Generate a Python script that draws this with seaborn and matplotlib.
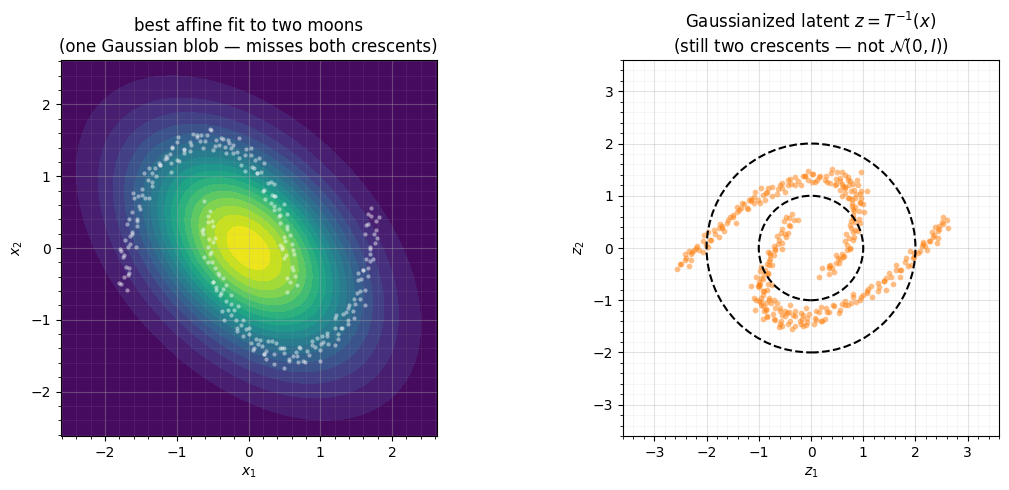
import numpy as np
import pandas as pd
import matplotlib
matplotlib.use("Agg")
import matplotlib.pyplot as plt
from matplotlib.patches import Circle
from matplotlib.ticker import MultipleLocator
import seaborn as sns

# ---------------- data ----------------
# fitted Gaussian (data space)
gauss_mean = [0.0, 0.0]
gauss_cov = [[1.0, -0.445], [-0.445, 1.0]]

# two moons, data space (left panel)
upper_x = [0.58, 0.65, 0.53, 0.60, 0.49, 0.63, 0.51, 0.62, 0.46, 0.53, 0.44, 0.49,
           0.35, 0.43, 0.49, 0.33, 0.23, 0.36, 0.27, 0.18, 0.20, 0.05, 0.14, 0.12,
           -0.05, 0.03, -0.10, -0.16, -0.27, -0.13, -0.36, -0.25, -0.41, -0.45, -0.54, -0.49,
           -0.72, -0.64, -0.58, -0.80, -0.90, -0.77, -0.90, -0.99, -0.97, -1.15, -1.06, -1.08,
           -1.24, -1.17, -1.29, -1.34, -1.45, -1.31, -1.49, -1.38, -1.54, -1.51, -1.60, -1.55,
           -1.70, -1.62, -1.56, -1.68, -1.78, -1.65, -1.66, -1.75, -1.73, -1.77, -1.68, -1.70,
           0.62, 0.53, 0.68, 0.52, 0.61, 0.47, 0.53, 0.44, 0.58, 0.44, 0.53, 0.36,
           0.42, 0.35, 0.31, 0.31, 0.22, 0.37, 0.12, 0.21, 0.07, 0.04, -0.05, 0.09,
           -0.13, -0.04, -0.21, -0.22, -0.29, -0.33, -0.38, -0.47, -0.32, -0.61, -0.52, -0.66,
           -0.72, -0.81, -0.67, -0.90, -0.81, -0.98, -0.99, -1.06, -1.10, -1.14, -1.23, -1.08,
           -1.34, -1.25, -1.39, -1.40, -1.49, -1.35, -1.53, -1.44, -1.61, -1.55, -1.62, -1.66,
           -1.63, -1.72, -1.57, -1.74, -1.65, -1.79, -1.71, -1.80, -1.66]
upper_y = [-0.48, -0.39, -0.62, -0.27, -0.14, -0.08, 0.10, -0.03, 0.01, 0.31, 0.46, 0.16,
           0.58, 0.44, 0.62, 0.74, 0.68, 0.89, 0.91, 1.06, 0.79, 1.13, 1.25, 1.04,
           1.30, 1.39, 1.16, 1.34, 1.47, 1.53, 1.52, 1.39, 1.43, 1.51, 1.66, 1.36,
           1.54, 1.40, 1.58, 1.44, 1.38, 1.59, 1.33, 1.48, 1.21, 1.28, 1.40, 1.19,
           1.15, 1.24, 1.01, 0.92, 1.05, 1.11, 0.82, 0.69, 0.73, 0.55, 0.70, 0.40,
           0.34, 0.20, 0.38, 0.02, -0.04, 0.17, -0.28, -0.13, -0.40, -0.50, -0.38, -0.59,
           -0.31, -0.42, -0.51, -0.10, 0.05, -0.02, 0.26, 0.04, 0.18, 0.35, 0.47, 0.53,
           0.54, 0.73, 0.63, 0.92, 0.81, 0.72, 1.04, 1.19, 1.12, 1.30, 1.08, 1.22,
           1.26, 1.38, 1.44, 1.32, 1.51, 1.41, 1.53, 1.42, 1.33, 1.49, 1.64, 1.57,
           1.57, 1.35, 1.49, 1.36, 1.48, 1.54, 1.22, 1.41, 1.31, 1.26, 1.15, 1.06,
           1.04, 1.19, 1.12, 0.95, 0.74, 0.87, 0.58, 0.70, 0.76, 0.31, 0.50, 0.40,
           0.22, 0.11, 0.02, -0.10, 0.05, -0.02, -0.27, -0.49, -0.35]
lower_x = [-0.53, -0.62, -0.57, -0.63, -0.55, -0.49, -0.52, -0.62, -0.49, -0.42, -0.51, -0.49,
           -0.45, -0.36, -0.38, -0.32, -0.25, -0.37, -0.18, -0.29, -0.15, -0.11, 0.00, -0.16,
           0.10, 0.01, 0.06, 0.13, 0.21, 0.27, 0.35, 0.25, 0.38, 0.56, 0.47, 0.49,
           0.62, 0.71, 0.69, 0.81, 0.88, 0.76, 0.99, 0.88, 1.02, 1.09, 1.20, 1.04,
           1.29, 1.20, 1.25, 1.31, 1.39, 1.45, 1.48, 1.38, 1.51, 1.62, 1.53, 1.55,
           1.60, 1.69, 1.67, 1.69, 1.76, 1.64, 1.75, 1.64, 1.78, 1.71, 1.82, 1.66,
           -0.56, -0.65, -0.51, -0.56, -0.47, -0.64, -0.46, -0.53, -0.57, -0.41, -0.50, -0.35,
           -0.40, -0.31, -0.45, -0.25, -0.34, -0.20, -0.16, -0.07, -0.24, 0.03, -0.04, -0.08,
           0.16, 0.07, 0.22, 0.24, 0.33, 0.19, 0.44, 0.35, 0.49, 0.57, 0.66, 0.49,
           0.79, 0.72, 0.68, 0.93, 0.84, 0.99, 1.01, 1.10, 0.96, 1.20, 1.11, 1.25,
           1.30, 1.39, 1.22, 1.47, 1.40, 1.36, 1.56, 1.47, 1.62, 1.57, 1.66, 1.52,
           1.69, 1.60, 1.74, 1.70, 1.79, 1.62, 1.78, 1.71, 1.67]
lower_y = [0.51, 0.66, 0.36, 0.27, 0.13, 0.31, -0.06, -0.12, 0.09, -0.35, -0.20, -0.47,
           -0.54, -0.42, -0.63, -0.74, -0.65, -0.88, -1.00, -0.87, -0.81, -1.07, -1.20, -1.16,
           -1.27, -1.12, -1.42, -1.34, -1.48, -1.30, -1.48, -1.54, -1.33, -1.55, -1.40, -1.67,
           -1.50, -1.38, -1.59, -1.44, -1.35, -1.58, -1.42, -1.29, -1.23, -1.22, -1.35, -1.31,
           -1.12, -0.97, -1.27, -0.92, -1.06, -0.88, -0.78, -0.84, -0.63, -0.59, -0.44, -0.71,
           -0.30, -0.18, -0.39, -0.02, 0.07, -0.16, 0.19, 0.32, 0.38, 0.56, 0.43, 0.47,
           0.45, 0.23, 0.37, 0.02, 0.14, 0.20, -0.28, -0.09, -0.19, -0.37, -0.48, -0.57,
           -0.66, -0.51, -0.58, -0.78, -1.00, -0.86, -1.12, -1.00, -0.94, -1.32, -1.13, -1.23,
           -1.28, -1.39, -1.48, -1.44, -1.29, -1.36, -1.39, -1.61, -1.47, -1.57, -1.45, -1.39,
           -1.59, -1.40, -1.50, -1.38, -1.49, -1.58, -1.34, -1.19, -1.26, -1.12, -1.34, -1.20,
           -1.12, -1.00, -0.94, -0.98, -0.79, -0.89, -0.60, -0.71, -0.80, -0.43, -0.28, -0.35,
           -0.08, -0.30, -0.16, 0.02, 0.14, 0.20, 0.25, 0.44, 0.34]

# latent space (right panel)
latA_x = [-2.50, -2.42, -2.57, -2.29, -2.42, -2.28, -2.19, -2.06, -2.24, -1.94, -2.04, -1.97,
          -1.86, -1.77, -1.71, -1.60, -1.71, -1.55, -1.42, -1.34, -1.49, -1.20, -1.33, -1.19,
          -1.10, -0.97, -1.15, -0.86, -0.96, -0.89, -0.75, -0.66, -0.60, -0.45, -0.56, -0.40,
          -0.24, -0.16, -0.31, 0.02, -0.11, 0.03, 0.17, 0.30, 0.12, 0.48, 0.38, 0.45,
          0.56, 0.65, 0.71, 0.76, 0.65, 0.81, 0.85, 0.93, 0.78, 0.92, 0.79, 0.93,
          0.81, 0.94, 0.76, 0.85, 0.75, 0.82, 0.66, 0.75, 0.81, 0.63, 0.52, 0.68,
          0.47, 0.55, 0.40, 0.34, 0.21, 0.35, 0.15, 0.60, 0.70, 0.55, 0.95, 0.88, 0.65,
          -2.39, -2.48, -2.34, -2.29, -2.20, -2.34, -2.06, -2.15, -2.01, -1.92, -1.83, -1.98,
          -1.66, -1.74, -1.76, -1.49, -1.58, -1.44, -1.37, -1.28, -1.42, -1.14, -1.23, -1.09,
          -1.01, -0.92, -1.07, -0.75, -0.83, -0.85, -0.55, -0.64, -0.50, -0.39, -0.30, -0.44,
          -0.11, -0.20, -0.06, 0.07, 0.16, 0.01, 0.37, 0.29, 0.27, 0.56, 0.47, 0.61,
          0.65, 0.74, 0.60, 0.82, 0.73, 0.87, 0.85, 0.94, 0.79, 0.91, 0.83, 0.81,
          0.85, 0.76, 0.90, 0.72, 0.81, 0.67, 0.69, 0.60, 0.74, 0.53, 0.62, 0.47,
          0.44, 0.36, 0.34, 0.70, 0.90, 0.95, 0.60, 0.80, 1.00, 0.72, 0.50, 0.95,
          1.07, 1.02, 0.40, -0.05]
latA_y = [-0.31, -0.23, -0.40, -0.23, -0.12, -0.07, 0.03, -0.08, -0.04, 0.15, 0.25, 0.02,
          0.35, 0.22, 0.38, 0.47, 0.42, 0.59, 0.68, 0.76, 0.59, 0.75, 0.86, 0.91,
          0.97, 0.86, 0.90, 1.05, 1.15, 0.92, 1.17, 1.04, 1.20, 1.20, 1.15, 1.32,
          1.29, 1.37, 1.20, 1.26, 1.37, 1.42, 1.37, 1.26, 1.30, 1.33, 1.43, 1.20,
          1.28, 1.15, 1.31, 1.10, 1.05, 1.22, 0.96, 1.04, 0.87, 0.70, 0.81, 0.86,
          0.58, 0.47, 0.51, 0.34, 0.44, 0.21, 0.13, 0.00, 0.16, -0.15, -0.20, -0.03,
          -0.29, -0.21, -0.38, -0.50, -0.39, -0.34, -0.55, 1.00, 0.95, 1.12, 1.10, 1.30, 1.40,
          -0.19, -0.30, -0.35, -0.12, 0.00, -0.05, 0.14, -0.04, 0.06, 0.16, 0.26, 0.31,
          0.32, 0.46, 0.39, 0.64, 0.53, 0.48, 0.72, 0.84, 0.79, 0.94, 0.77, 0.86,
          0.92, 1.02, 1.07, 1.00, 1.14, 1.07, 1.24, 1.13, 1.08, 1.23, 1.35, 1.30,
          1.38, 1.21, 1.30, 1.26, 1.36, 1.41, 1.24, 1.38, 1.31, 1.34, 1.23, 1.18,
          1.16, 1.28, 1.23, 1.12, 0.95, 1.04, 0.79, 0.89, 0.94, 0.56, 0.70, 0.63,
          0.49, 0.38, 0.33, 0.19, 0.31, 0.26, 0.06, -0.11, -0.02, -0.28, -0.18, -0.13,
          -0.46, -0.32, -0.39, 1.35, 1.20, 0.95, 1.45, 0.75, 0.85, 1.20, 1.45, 1.45,
          1.09, 0.68, 1.52, 1.48]
latB_x = [-0.37, -0.24, -0.42, -0.41, -0.51, -0.44, -0.65, -0.56, -0.50, -0.68, -0.79, -0.63,
          -0.78, -0.70, -0.85, -0.82, -0.95, -0.81, -0.95, -0.82, -1.00, -0.92, -1.02, -0.95,
          -0.96, -0.87, -0.81, -0.73, -0.84, -0.68, -0.50, -0.42, -0.57, -0.21, -0.34, -0.20,
          -0.03, 0.10, -0.08, 0.30, 0.20, 0.27, 0.44, 0.53, 0.59, 0.76, 0.65, 0.81,
          1.00, 1.08, 0.93, 1.28, 1.15, 1.29, 1.44, 1.57, 1.39, 1.73, 1.63, 1.70,
          1.82, 1.91, 1.97, 2.09, 1.98, 2.14, 2.25, 2.33, 2.18, 2.44, 2.31, 2.45,
          2.50, 2.63, 2.45, -0.85, -0.70, -0.60, -0.40, -1.05, -0.60, -0.30, -0.75, -0.90,
          -0.10, 0.10,
          -0.42, -0.33, -0.48, -0.48, -0.56, -0.58, -0.61, -0.70, -0.56, -0.78, -0.69, -0.83,
          -0.80, -0.89, -0.75, -0.91, -0.82, -0.97, -0.90, -0.98, -1.00, -0.91, -1.00, -0.86,
          -0.86, -0.77, -0.91, -0.60, -0.69, -0.55, -0.40, -0.31, -0.46, -0.08, -0.16, -0.18,
          0.16, 0.07, 0.21, 0.34, 0.43, 0.29, 0.65, 0.56, 0.70, 0.86, 0.95, 0.80,
          1.17, 1.09, 1.07, 1.39, 1.30, 1.44, 1.54, 1.63, 1.49, 1.80, 1.71, 1.85,
          1.96, 2.05, 1.90, 2.22, 2.14, 2.12, 2.36, 2.27, 2.41, 2.43, 2.52, 2.38,
          -0.95, -0.80, -0.65, -0.50, -0.45, -0.20, 0.05, -0.70, -0.85, -1.00, -0.90, -1.05,
          -0.55, -0.30, 0.20, -0.10,
          -1.15, -1.10, -0.92, -0.62, -0.36, -1.08, -0.15, 2.52, 2.60]
latB_y = [0.65, 0.54, 0.58, 0.42, 0.52, 0.29, 0.23, 0.10, 0.26, -0.04, -0.09, 0.08,
          -0.21, -0.13, -0.30, -0.48, -0.37, -0.32, -0.58, -0.69, -0.65, -0.83, -0.73, -0.96,
          -1.03, -1.16, -1.00, -1.27, -1.32, -1.15, -1.31, -1.23, -1.40, -1.40, -1.29, -1.24,
          -1.27, -1.38, -1.34, -1.23, -1.13, -1.36, -1.11, -1.24, -1.08, -1.05, -1.10, -0.93,
          -0.90, -0.82, -0.99, -0.83, -0.72, -0.67, -0.57, -0.68, -0.64, -0.42, -0.32, -0.55,
          -0.20, -0.33, -0.17, -0.05, -0.10, 0.07, 0.13, 0.21, 0.04, 0.20, 0.31, 0.36,
          0.50, 0.39, 0.43, -0.80, -1.00, -1.15, -1.10, -0.55, -1.45, -1.50, -0.70, -1.20,
          -1.48, -1.20,
          0.44, 0.54, 0.59, 0.22, 0.36, 0.29, 0.15, 0.04, -0.02, -0.14, -0.02, -0.07,
          -0.25, -0.42, -0.33, -0.59, -0.49, -0.44, -0.82, -0.68, -0.75, -0.90, -1.01, -1.06,
          -1.18, -1.06, -1.11, -1.21, -1.38, -1.29, -1.40, -1.30, -1.25, -1.42, -1.28, -1.35,
          -1.23, -1.34, -1.39, -1.22, -1.10, -1.15, -1.01, -1.18, -1.09, -1.03, -0.93, -0.88,
          -0.93, -0.79, -0.86, -0.64, -0.75, -0.80, -0.55, -0.43, -0.48, -0.26, -0.43, -0.34,
          -0.20, -0.10, -0.05, -0.04, 0.11, 0.04, 0.25, 0.14, 0.09, 0.33, 0.45, 0.40,
          -1.10, -0.95, -1.05, -1.20, -1.45, -1.45, -1.45, -1.35, -1.30, -0.70, -0.50, -1.00,
          -1.50, -1.20, -1.40, -1.15,
          -0.72, -0.95, -1.35, -1.52, -1.55, -1.18, -1.50, 0.60, 0.53]

circle_radii = [1, 2]

# ---------------- figure ----------------
plt.rcParams['font.family'] = ['DejaVu Sans']
fig = plt.figure(figsize=(10.09, 4.90), dpi=100)
W, H = 1009, 490
axL = fig.add_axes([60 / W, (H - 436) / H, 377 / W, 376 / H])
axR = fig.add_axes([623 / W, (H - 436) / H, 376 / W, 376 / H])

# left: gaussian density contours
g = np.linspace(-2.62, 2.62, 300)
GX, GY = np.meshgrid(g, g)
mu = np.array(gauss_mean)
S = np.array(gauss_cov)
Si = np.linalg.inv(S)
dx, dy = GX - mu[0], GY - mu[1]
Q = Si[0, 0] * dx * dx + 2 * Si[0, 1] * dx * dy + Si[1, 1] * dy * dy
dens = np.exp(-0.5 * Q) / (2 * np.pi * np.sqrt(np.linalg.det(S)))
axL.contourf(GX, GY, dens, levels=20, cmap="viridis", zorder=0)

moons = pd.DataFrame({"x": upper_x + lower_x, "y": upper_y + lower_y})
sns.scatterplot(data=moons, x="x", y="y", ax=axL, color="white", s=9,
                alpha=0.45, linewidth=0, zorder=3)
axL.set_xlim(-2.62, 2.62)
axL.set_ylim(-2.62, 2.62)
axL.set_aspect("equal")
axL.set_title("best affine fit to two moons\n(one Gaussian blob — misses both crescents)",
              fontsize=12)
axL.set_xlabel("$x_1$")
axL.set_ylabel("$x_2$")

# right: latent
lat = pd.DataFrame({"x": latA_x + latB_x, "y": latA_y + latB_y})
sns.scatterplot(data=lat, x="x", y="y", ax=axR, color="#ff7f0e", s=17,
                alpha=0.5, linewidth=0, zorder=3)
for r in circle_radii:
    axR.add_patch(Circle((0, 0), r, fill=False, ls="--", lw=1.5, color="black", zorder=4))
axR.set_xlim(-3.6, 3.6)
axR.set_ylim(-3.6, 3.6)
axR.set_aspect("equal")
axR.set_title("Gaussianized latent $z = T^{-1}(x)$\n(still two crescents — not $\\mathcal{N}(0, I)$)",
              fontsize=12)
axR.set_xlabel("$z_1$")
axR.set_ylabel("$z_2$")

for ax in (axL, axR):
    ax.xaxis.set_major_locator(MultipleLocator(1))
    ax.yaxis.set_major_locator(MultipleLocator(1))
    ax.xaxis.set_minor_locator(MultipleLocator(0.2))
    ax.yaxis.set_minor_locator(MultipleLocator(0.2))
    ax.grid(which="major", alpha=0.35, lw=0.8)
    ax.grid(which="minor", alpha=0.12, lw=0.6)

fig.savefig("out.png", dpi=100)
